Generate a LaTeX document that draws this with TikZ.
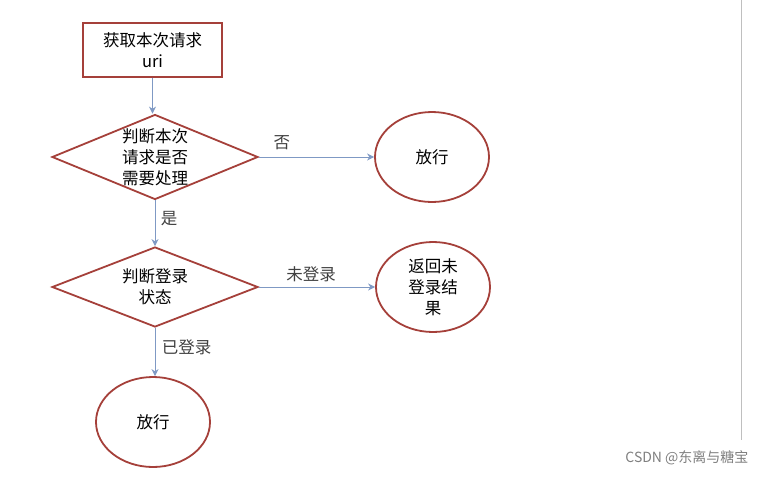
\documentclass[tikz,border=0pt]{standalone}
\usepackage{fontspec}
\setmainfont{Noto Sans CJK SC}
\usetikzlibrary{shapes.geometric,arrows.meta}
\definecolor{bord}{HTML}{A5403A}
\definecolor{arr}{HTML}{7F99C4}
\tikzset{
  txt/.style={font=\fontsize{16.5}{21}\selectfont},
  box/.style={txt,draw=bord,line width=1.8pt,minimum width=139pt,minimum height=54pt,inner sep=0pt,align=center},
  dia/.style={txt,draw=bord,line width=1.8pt,diamond,aspect=2.4,minimum width=206pt,minimum height=85pt,inner sep=0pt,align=center},
  ell/.style={txt,draw=bord,line width=1.8pt,ellipse,minimum width=114pt,minimum height=90pt,inner sep=0pt,align=center},
  con/.style={draw=arr,line width=0.9pt,-{Stealth[length=7pt,width=7pt]}},
  lab/.style={txt,text=black!75}
}
\begin{document}
\begin{tikzpicture}[x=1pt,y=-1pt]
\useasboundingbox[fill=white] (0,0) rectangle (757,477);
\draw[black!25,line width=0.6pt] (741,0) -- (741,440);
\node[box] (a) at (152.5,50) {获取本次请求\\uri};
\node[dia] (d1) at (155,157) {判断本次\\请求是否\\需要处理};
\node[ell] (e1) at (432,157) {放行};
\node[dia,minimum height=80pt] (d2) at (155,287) {判断登录\\状态};
\node[ell] (e2) at (433,287) {返回未\\登录结\\果};
\node[ell] (e3) at (153,422) {放行};
\draw[con] (a.south) -- (a.south |- d1.north);
\draw[con] (d1) -- node[lab,above,pos=0.2,yshift=3pt]{否} (e1);
\draw[con] (d1) -- node[lab,right,pos=0.4,xshift=2pt]{是} (d2);
\draw[con] (d2) -- node[lab,above,pos=0.45,yshift=1pt]{未登录} (e2);
\draw[con] (d2.south) -- node[lab,right,pos=0.4,xshift=3pt]{已登录} (d2.south |- e3.north);
\node[font=\fontsize{14}{17}\selectfont,text=black!50,anchor=east] (w) at (752,458) {CSDN @东离与糖宝};
\end{tikzpicture}
\end{document}
